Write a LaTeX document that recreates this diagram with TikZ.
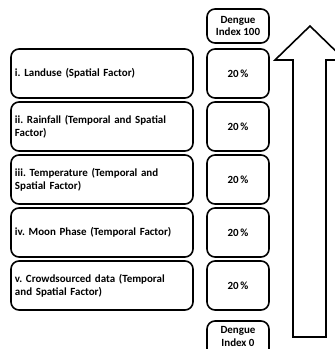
\documentclass[tikz,border=0pt]{standalone}
\usepackage{fontspec}
\setmainfont{Carlito}
\frenchspacing
\begin{document}
\begin{tikzpicture}[x=1bp,y=-1bp,
  base/.style={draw=black, line width=1.6bp, rounded corners=8bp, font=\bfseries\fontsize{11}{13}\selectfont, inner sep=0pt},
  factor/.style={base, minimum width=182bp, minimum height=49bp, align=left, text width=174bp},
  pct/.style={base, minimum width=62bp, minimum height=49bp, align=center},
  idx/.style={base, minimum width=62bp, minimum height=34bp, align=center}]
\useasboundingbox (0,0) rectangle (335,349);
\clip (0,0) rectangle (335,349);
\node[idx] (top) at (238,26) {Dengue\\Index 100};
\node[factor] (f1) at (102,73.5) {i. Landuse (Spatial Factor)};
\node[factor] (f2) at (102,126.5) {ii. Rainfall (Temporal and Spatial\\Factor)};
\node[factor] (f3) at (102,179.5) {iii. Temperature (Temporal and\\Spatial Factor)};
\node[factor] (f4) at (102,232.5) {iv. Moon Phase (Temporal Factor)};
\node[factor] (f5) at (102,285.5) {v. Crowdsourced data (Temporal\\and Spatial Factor)};
\node[pct] (p1) at (238,73.5) {20\,\%};
\node[pct] (p2) at (238,126.5) {20\,\%};
\node[pct] (p3) at (238,179.5) {20\,\%};
\node[pct] (p4) at (238,232.5) {20\,\%};
\node[pct] (p5) at (238,285.5) {20\,\%};
\node[idx, minimum height=44bp] (bot) at (238,343) {Dengue\\Index 0\\\mbox{}};
\draw[line width=1.6bp, line join=miter] (293,337) -- (293,60) -- (275,60) -- (310,26) -- (345,60) -- (326,60) -- (326,337) -- cycle;
\end{tikzpicture}
\end{document}
